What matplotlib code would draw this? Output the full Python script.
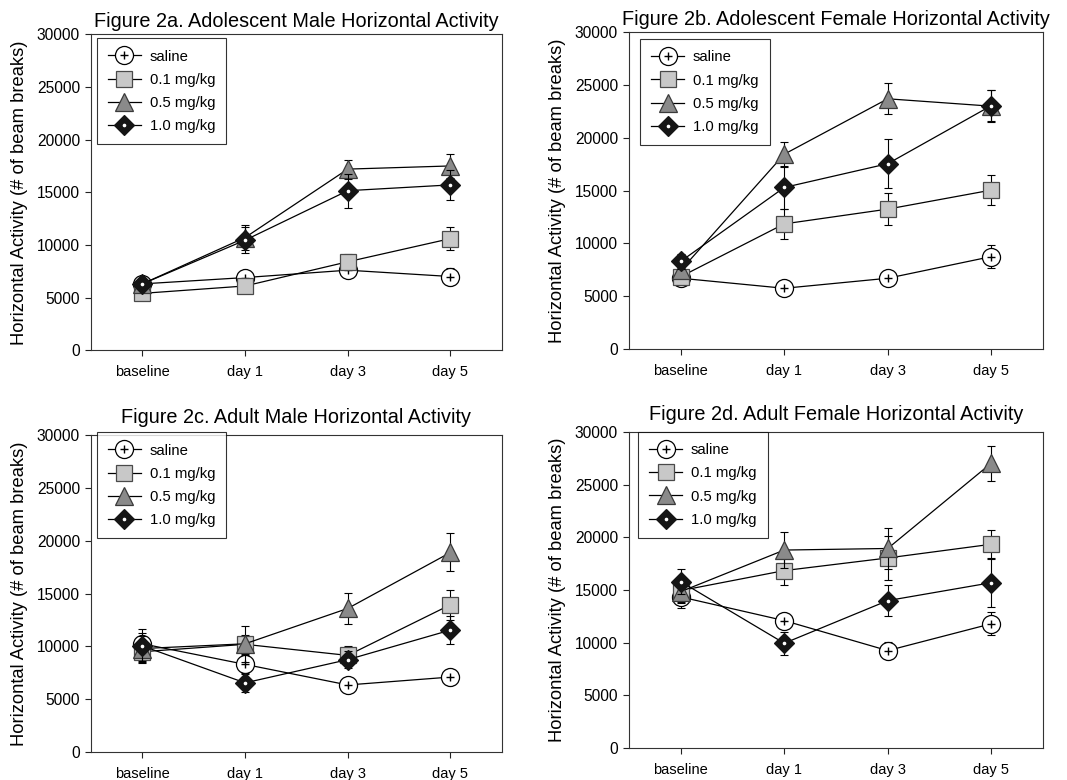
import matplotlib
matplotlib.use("Agg")
import matplotlib.pyplot as plt
from matplotlib.lines import Line2D

plt.rcParams['font.family'] = ['Liberation Sans', 'DejaVu Sans']

categories = ["baseline", "day 1", "day 3", "day 5"]
series_names = ["saline", "0.1 mg/kg", "0.5 mg/kg", "1.0 mg/kg"]
y_ticks = [0, 5000, 10000, 15000, 20000, 25000, 30000]

titles = [
    "Figure 2a. Adolescent Male Horizontal Activity",
    "Figure 2b. Adolescent Female Horizontal Activity",
    "Figure 2c. Adult Male Horizontal Activity",
    "Figure 2d. Adult Female Horizontal Activity",
]

# Panel a: adolescent male
a_saline = [6300, 6900, 7600, 7000]
a_saline_err = [500, 600, 400, 800]
a_low = [5400, 6100, 8400, 10600]
a_low_err = [400, 500, 700, 1100]
a_mid = [6300, 10700, 17200, 17500]
a_mid_err = [500, 1200, 900, 1100]
a_high = [6300, 10450, 15150, 15700]
a_high_err = [500, 1250, 1600, 1400]

# Panel b: adolescent female
b_saline = [6700, 5750, 6700, 8750]
b_saline_err = [700, 600, 500, 1100]
b_low = [6850, 11850, 13250, 15050]
b_low_err = [700, 1400, 1500, 1400]
b_mid = [7450, 18450, 23700, 23000]
b_mid_err = [700, 1200, 1450, 1500]
b_high = [8300, 15300, 17550, 23050]
b_high_err = [700, 2000, 2300, 1500]

# Panel c: adult male
c_saline = [10250, 8300, 6350, 7100]
c_saline_err = [1000, 900, 400, 800]
c_low = [9500, 10200, 9150, 13950]
c_low_err = [1000, 900, 900, 1400]
c_mid = [9800, 10250, 13600, 18900]
c_mid_err = [1200, 1700, 1500, 1800]
c_high = [10050, 6550, 8750, 11550]
c_high_err = [1600, 900, 800, 1300]

# Panel d: adult female
d_saline = [14350, 12100, 9250, 11800]
d_saline_err = [1100, 700, 800, 1100]
d_low = [14950, 16850, 18050, 19350]
d_low_err = [1100, 1400, 2100, 1400]
d_mid = [14850, 18800, 18950, 27050]
d_mid_err = [1100, 1700, 1950, 1650]
d_high = [15800, 9950, 14000, 15700]
d_high_err = [1200, 1100, 1450, 2300]

panels = [
    (a_saline, a_saline_err, a_low, a_low_err, a_mid, a_mid_err, a_high, a_high_err),
    (b_saline, b_saline_err, b_low, b_low_err, b_mid, b_mid_err, b_high, b_high_err),
    (c_saline, c_saline_err, c_low, c_low_err, c_mid, c_mid_err, c_high, c_high_err),
    (d_saline, d_saline_err, d_low, d_low_err, d_mid, d_mid_err, d_high, d_high_err),
]

styles = [
    dict(marker='o', ms=13, mfc='white', mec='black', mew=0.9),
    dict(marker='s', ms=11, mfc='#c8c8c8', mec='#4a4a4a', mew=0.9),
    dict(marker='^', ms=13.5, mfc='#8a8a8a', mec='#3a3a3a', mew=0.9),
    dict(marker='D', ms=10.5, mfc='#151515', mec='#151515', mew=0.9),
]

positions = [
    [0.0853, 0.551, 0.385, 0.405],
    [0.5895, 0.5526, 0.388, 0.406],
    [0.0853, 0.0359, 0.385, 0.406],
    [0.5895, 0.041, 0.388, 0.405],
]
legend_anchor = [(0.014, 0.987), (0.027, 0.978), (0.014, 1.009), (0.022, 1.0)]
title_pad = [5, 5, 9, 9]

fig = plt.figure(figsize=(10.67, 7.8), dpi=100)
x = list(range(len(categories)))

for p, data in enumerate(panels):
    ax = fig.add_axes(positions[p])
    for i in range(4):
        means = data[2 * i]
        errs = data[2 * i + 1]
        z = 3 + i
        ax.errorbar(x, means, yerr=errs, fmt='none', ecolor='black',
                    elinewidth=0.8, capsize=3, capthick=0.8, zorder=z)
        ax.plot(x, means, color='black', lw=0.9, zorder=z + 0.1,
                **styles[i])
        if i == 0:
            ax.plot(x, means, linestyle='none', marker='+', ms=6,
                    mew=1.0, color='black', zorder=z + 0.2)
        if i == 3:
            ax.plot(x, means, linestyle='none', marker='o', ms=1.6,
                    mfc='white', mec='white', zorder=z + 0.2)
    ax.set_xlim(-0.5, 3.5)
    ax.set_ylim(0, 30000)
    ax.set_xticks(x)
    ax.set_xticklabels(categories, fontsize=10.5)
    ax.set_yticks(y_ticks)
    ax.set_yticklabels([str(t) for t in y_ticks], fontsize=11.2)
    ax.tick_params(direction='out', length=4, width=0.8, colors='#222222',
                   labelcolor='black')
    ax.tick_params(axis='x', pad=7)
    ax.tick_params(axis='y', pad=4)
    for s in ax.spines.values():
        s.set_linewidth(0.8)
        s.set_color('#333333')
    ax.set_ylabel("Horizontal Activity (# of beam breaks)", fontsize=13.2,
                  labelpad=6)
    ax.set_title(titles[p], fontsize=14.3, pad=title_pad[p])

    handles = []
    for i in range(4):
        h = [Line2D([0], [0], color='black', lw=0.9, **styles[i])]
        if i == 0:
            h.append(Line2D([0], [0], linestyle='none', marker='+', ms=6,
                            mew=1.0, color='black'))
        if i == 3:
            h.append(Line2D([0], [0], linestyle='none', marker='o', ms=1.6,
                            mfc='white', mec='white'))
        handles.append(tuple(h))
    leg = ax.legend(handles, series_names, loc='upper left',
                    bbox_to_anchor=legend_anchor[p], fontsize=10.7,
                    frameon=True, fancybox=False, edgecolor='black',
                    handlelength=2.2, handletextpad=0.6, labelspacing=0.62,
                    borderpad=0.75, borderaxespad=0.0)
    leg.get_frame().set_linewidth(0.8)
    leg.set_zorder(10)

fig.savefig("out.png", dpi=100)
